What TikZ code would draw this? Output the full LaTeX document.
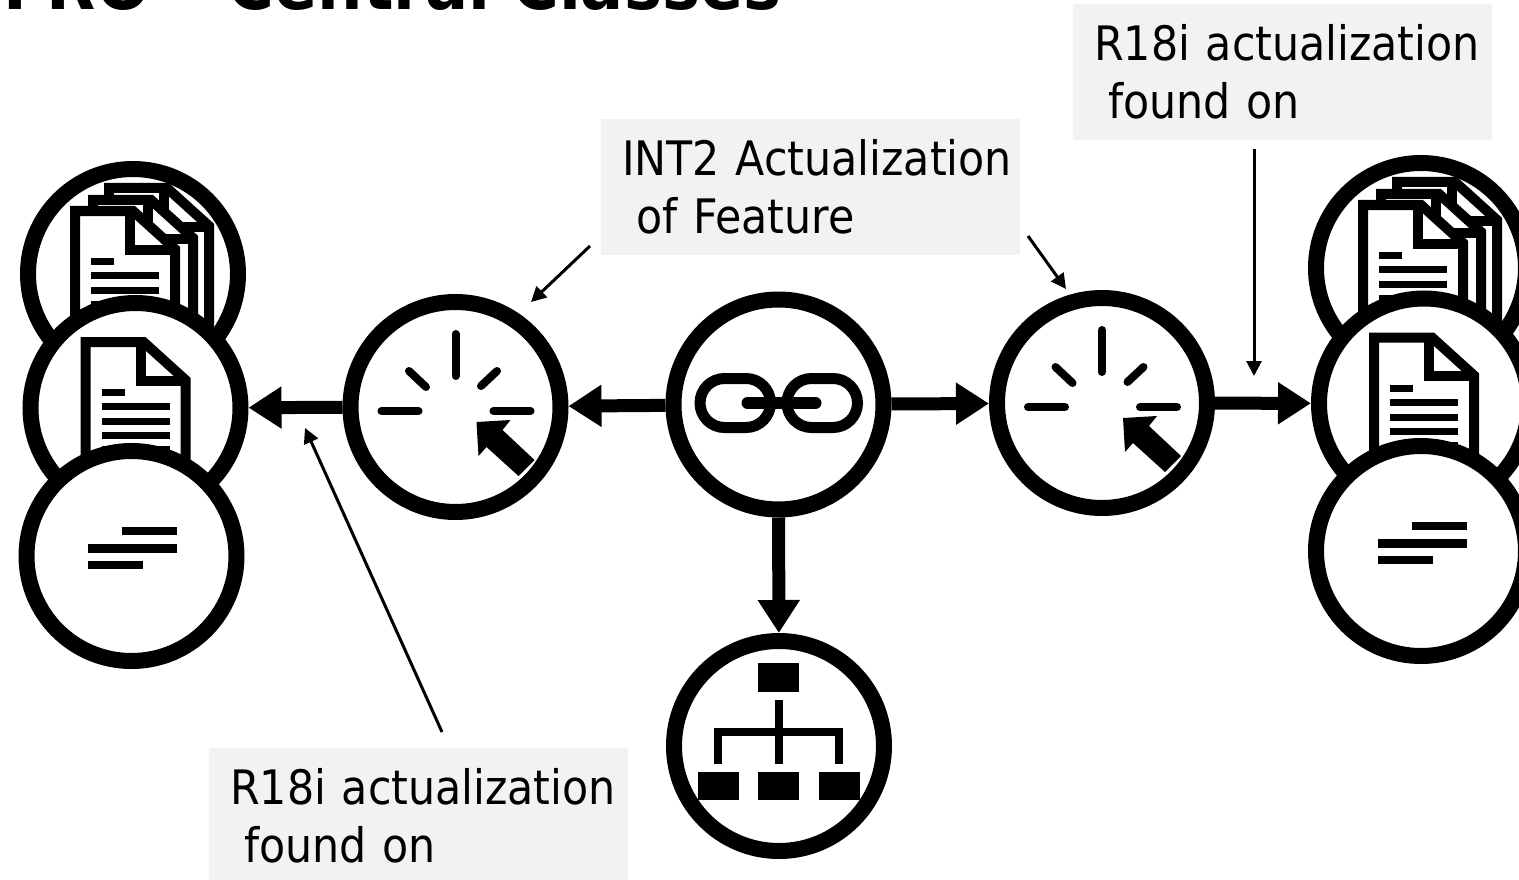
\documentclass[tikz,border=0pt]{standalone}
\usepackage{fontspec}
\setmainfont{DejaVu Sans Condensed}
\usetikzlibrary{arrows.meta}
\definecolor{labelgray}{HTML}{F2F2F2}
\tikzset{
  x=1pt,y=-1pt,
  ring/.style={circle,draw=black,fill=white,line width=16pt,minimum size=210pt,inner sep=0pt},
  bigconn/.style={line width=13pt,-{Triangle[length=33pt,width=40pt]}},
  thinconn/.style={line width=3pt,-{Triangle[length=15pt,width=15pt]}},
  labelbox/.style={fill=labelgray,text=black,anchor=north west,text width=419pt,inner xsep=0pt,inner ysep=0pt,
    minimum height=136pt,align=left,font=\fontsize{47.5}{58}\selectfont},
  docline/.style={line width=10pt,miter limit=10,line join=miter},
  ticks/.style={line width=8pt,line cap=round},
  linkline/.style={line width=11pt},
  pics/singledoc/.style={code={
    \draw[docline,fill=white] (-50,90) -- (-50,-66) -- (8,-66) -- (50,-28) -- (50,90);
    \draw[docline] (5,-66) -- (5,-27.5) -- (50,-27.5);
    \fill (-34,-19) rectangle (-11,-12);
    \fill (-34,-5) rectangle (34,2);
    \fill (-34,10) rectangle (34,17);
    \fill (-34,24) rectangle (34,31);
    \fill (-34,38) rectangle (34,45);
  }},
  pics/multidoc/.style={code={
    \pic at (26,-20) {singledoc};
    \pic at (10,-8) {singledoc};
    \pic at (-8,3) {singledoc};
  }},
  pics/parabars/.style={code={
    \fill (-9.5,-29) rectangle (45.5,-21);
    \fill (-43.5,-12) rectangle (45.5,-3);
    \fill (-43.5,5) rectangle (11.5,13);
  }},
  pics/clicker/.style={code={
    \draw[ticks] (0,-73) -- (0,-31);
    \draw[ticks] (-46.5,-36) -- (-29.5,-20);
    \draw[ticks] (41.5,-36) -- (25.5,-21);
    \draw[ticks] (-74,4) -- (-37,4);
    \draw[ticks] (38,4) -- (75,4);
    \fill (21,15) -- (55,13) -- (47,23) -- (79,53) -- (63,69) -- (31,40) -- (23,49) -- cycle;
  }},
  pics/chainlink/.style={code={
    \draw[linkline,rounded corners=24.5pt] (-78.5,-26) rectangle (-8,23);
    \draw[linkline,rounded corners=24.5pt] (8.5,-26) rectangle (79,23);
    \draw[line width=12pt,line cap=round] (-31,-1.5) -- (37,-1.5);
  }},
  pics/treeicon/.style={code={
    \fill (-21,-83) rectangle (20,-54);
    \fill (-4,-46) rectangle (4,18);
    \fill (-65,-18) rectangle (64,-10);
    \fill (-65,-18) rectangle (-57,18);
    \fill (56,-18) rectangle (64,18);
    \fill (-81,26) rectangle (-40,54);
    \fill (-21,26) rectangle (20,54);
    \fill (40,26) rectangle (81,54);
  }},
}
\begin{document}
\begin{tikzpicture}
\useasboundingbox (0,0) rectangle (1519,880);
\clip (0,0) rectangle (1519,880);

% title, cut off by the top edge
\node[anchor=base west,inner sep=0pt,font=\fontsize{71}{80}\selectfont\bfseries] (title) at (3,10) {FRO\hspace*{3pt} - \hspace*{3pt}Central Classes};

% left stack
\node[ring] (ldocs) at (133,274) {};
\pic at (133,274) {multidoc};
\node[ring] (ldoc) at (135.5,408) {};
\pic at (135.5,408) {singledoc};
\node[ring] (lpara) at (131.5,556) {};
\pic at (131.5,556) {parabars};

% right stack
\node[ring] (rdocs) at (1421,268) {};
\pic at (1421,268) {multidoc};
\node[ring] (rdoc) at (1424,403.5) {};
\pic at (1424,403.5) {singledoc};
\node[ring] (rpara) at (1421,551) {};
\pic at (1421,551) {parabars};

% centre row
\node[ring] (lclick) at (455.5,407) {};
\pic at (455.5,407) {clicker};
\node[ring] (link) at (778.5,404.5) {};
\pic at (778.5,404.5) {chainlink};
\node[ring] (rclick) at (1102,403) {};
\pic at (1102,403) {clicker};
\node[ring] (tree) at (779,746) {};
\pic at (779,746) {treeicon};

% connectors
\draw[bigconn] (link) -- (lclick);
\draw[bigconn] (lclick) -- (ldoc);
\draw[bigconn] (link) -- (rclick);
\draw[bigconn] (rclick) -- (rdoc);
\draw[bigconn] (link) -- (tree);

% labels
\node[labelbox] (intlabel) at (601,119) {\hspace*{21pt}INT2 Actualization\\\hspace*{35pt}of Feature};
\node[labelbox] (toplabel) at (1073,4) {\hspace*{21pt}R18i actualization\\\hspace*{35pt}found on};
\node[labelbox] (botlabel) at (209,748) {\hspace*{21pt}R18i actualization\\\hspace*{35pt}found on};

% pointers
\coordinate (p1s) at (590,246); \coordinate (p1e) at (531,302);
\coordinate (p2s) at (1028,236); \coordinate (p2e) at (1066,289);
\coordinate (p3s) at (1254,149); \coordinate (p3e) at (1254,376);
\coordinate (p4s) at (442,732); \coordinate (p4e) at (305,428);
\draw[thinconn] (p1s) -- (p1e);
\draw[thinconn] (p2s) -- (p2e);
\draw[thinconn] (p3s) -- (p3e);
\draw[thinconn] (p4s) -- (p4e);
\end{tikzpicture}
\end{document}
